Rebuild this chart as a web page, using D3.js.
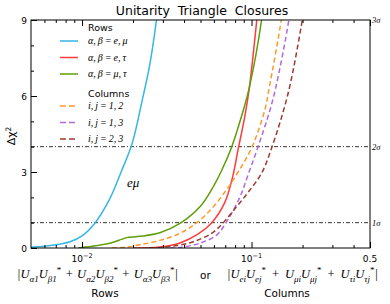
<!DOCTYPE html>
<html>
<head>
<meta charset="utf-8">
<script src="https://cdn.jsdelivr.net/npm/d3@7"></script>
<style>
    body { margin: 0; background: #fff; }
    svg text { font-family: "DejaVu Sans", sans-serif; fill: #000; }
    .math { font-family: "Liberation Serif", serif; font-style: italic; }
</style>
</head>
<body>
<div id="chart"></div>
<script>
// Curves: [ |sum of products|, delta chi^2 ]
const rowEMu = [[0.005, 0.03], [0.0065, 0.1], [0.0085, 0.25], [0.0101, 0.5], [0.0119, 0.98],
    [0.0146, 1.95], [0.0170, 3.0], [0.0197, 4.1], [0.0226, 5.8], [0.0252, 7.3], [0.0275, 9.0], [0.029, 10.2]];
const rowETau = [[0.0200, 0.0], [0.0288, 0.04], [0.0378, 0.2], [0.0485, 0.56], [0.0581, 0.99],
    [0.0696, 1.8], [0.0770, 2.75], [0.0834, 3.9], [0.0913, 5.2], [0.0970, 6.3], [0.1074, 9.0], [0.111, 10]];
const rowMuTau = [[0.0095, 0.0], [0.0146, 0.19], [0.0171, 0.34], [0.0183, 0.41], [0.0220, 0.46],
    [0.0288, 0.6], [0.0378, 0.97], [0.0496, 1.63], [0.0581, 2.3], [0.0665, 3.05], [0.0762, 3.97],
    [0.0873, 5.2], [0.0968, 6.3], [0.1146, 9.0], [0.118, 9.8]];
const col12 = [[0.0150, 0.0], [0.0180, 0.03], [0.0220, 0.13], [0.0288, 0.30], [0.0378, 0.58],
    [0.0474, 0.99], [0.0581, 1.55], [0.0712, 2.3], [0.0834, 3.0], [0.1004, 3.97], [0.1198, 5.45],
    [0.1265, 6.24], [0.1498, 9.0], [0.155, 9.8]];
const col13 = [[0.0330, 0.0], [0.0378, 0.02], [0.0496, 0.19], [0.0622, 0.51], [0.0706, 0.99],
    [0.0853, 2.0], [0.0955, 2.9], [0.1089, 3.97], [0.1341, 5.9], [0.1660, 9.0], [0.172, 9.8]];
const col23 = [[0.0250, 0.0], [0.0288, 0.01], [0.0433, 0.21], [0.0581, 0.58], [0.0679, 0.99],
    [0.0816, 1.63], [0.0955, 2.2], [0.1146, 2.95], [0.1317, 3.97], [0.1643, 6.1], [0.1994, 9.0], [0.206, 9.6]];

const curves = [rowEMu, rowETau, rowMuTau, col12, col13, col23];
const curveLabels = ["α,\u2009β\u2009=\u2009e,\u2009μ", "α,\u2009β\u2009=\u2009e,\u2009τ", "α,\u2009β\u2009=\u2009μ,\u2009τ",
    "i,\u2009j\u2009=\u20091,\u20092", "i,\u2009j\u2009=\u20091,\u20093", "i,\u2009j\u2009=\u20092,\u20093"];
const curveColors = ["#35b6e6", "#ff3b3b", "#5e9e06", "#ff9a2a", "#b06ad9", "#9e3a30"];
const curveDashed = [false, false, false, true, true, true];

// Axes
const xMajor = [0.01, 0.1, 0.5];
const xMinor = [0.006, 0.007, 0.008, 0.009, 0.02, 0.03, 0.04, 0.05, 0.06, 0.07, 0.08, 0.09, 0.2, 0.3, 0.4];
const yMajor = [0, 3, 6, 9];
const yMinor = [1, 2, 4, 5, 7, 8];
const sigmaLevels = [[1, "1σ"], [4, "2σ"], [9, "3σ"]];

const width = 390, height = 304;
const margin = { top: 20, right: 20, bottom: 56, left: 31 };

const svg = d3.select("#chart").append("svg")
    .attr("width", width)
    .attr("height", height);

const x = d3.scaleLog().domain([0.005, 0.5]).range([margin.left, width - margin.right]);
const y = d3.scaleLinear().domain([0, 9]).range([height - margin.bottom, margin.top]);

// clip for curves
svg.append("clipPath").attr("id", "plot")
    .append("rect")
    .attr("x", x.range()[0]).attr("y", y.range()[1])
    .attr("width", x.range()[1] - x.range()[0])
    .attr("height", y.range()[0] - y.range()[1]);

// dash-dot sigma lines
svg.selectAll(".sig")
    .data(sigmaLevels.filter(d => d[0] < 9))
    .join("line")
    .attr("x1", x.range()[0]).attr("x2", x.range()[1])
    .attr("y1", d => y(d[0])).attr("y2", d => y(d[0]))
    .attr("stroke", "#000").attr("stroke-width", 0.8)
    .attr("stroke-dasharray", "4,2,1,2");

// curves
const line = d3.line()
    .x(d => x(d[0]))
    .y(d => y(d[1]))
    .curve(d3.curveCatmullRom.alpha(0.5));

svg.append("g").attr("clip-path", "url(#plot)")
    .selectAll("path")
    .data(curves)
    .join("path")
    .attr("d", line)
    .attr("fill", "none")
    .attr("stroke", (d, i) => curveColors[i])
    .attr("stroke-width", 1.5)
    .attr("stroke-dasharray", (d, i) => curveDashed[i] ? "5,3" : null);

// axes, ticks pointing inward
function drawTicks(axis, values, size, transform) {
    svg.append("g")
        .attr("transform", transform)
        .call(axis.tickValues(values).tickSize(size).tickFormat(""))
        .call(g => g.select(".domain").remove())
        .call(g => g.selectAll("line").attr("stroke", "#000").attr("stroke-width", 1));
}
const yb = y.range()[0], yt = y.range()[1];
drawTicks(d3.axisBottom(x), xMajor, -6, `translate(0,${yb})`);
drawTicks(d3.axisBottom(x), xMinor, -3, `translate(0,${yb})`);
drawTicks(d3.axisTop(x), xMajor, -6, `translate(0,${yt})`);
drawTicks(d3.axisTop(x), xMinor, -3, `translate(0,${yt})`);
drawTicks(d3.axisLeft(y), yMajor, -6, `translate(${x.range()[0]},0)`);
drawTicks(d3.axisLeft(y), yMinor, -3, `translate(${x.range()[0]},0)`);

// frame
svg.append("rect")
    .attr("x", x.range()[0]).attr("y", yt)
    .attr("width", x.range()[1] - x.range()[0])
    .attr("height", yb - yt)
    .attr("fill", "none").attr("stroke", "#000").attr("stroke-width", 1);

// y tick labels
svg.selectAll(".ylab")
    .data(yMajor)
    .join("text")
    .attr("x", x.range()[0] - 4)
    .attr("y", d => y(d) + 3.5)
    .attr("text-anchor", "end")
    .attr("font-size", 9)
    .text(d => d);

// x tick labels
const xl = svg.selectAll(".xlab")
    .data(xMajor)
    .join("text")
    .attr("x", d => x(d))
    .attr("y", yb + 14)
    .attr("text-anchor", "middle")
    .attr("font-size", 9);
xl.each(function(d) {
    const t = d3.select(this);
    if (d === 0.5) { t.text("0.5"); return; }
    t.append("tspan").text("10");
    t.append("tspan").attr("dy", -4).attr("font-size", 6.5).text("−" + Math.round(-Math.log10(d)));
});

// sigma labels on the right
svg.selectAll(".sigl")
    .data(sigmaLevels)
    .join("text")
    .attr("class", "math")
    .attr("x", x.range()[1] + 2)
    .attr("y", d => y(d[0]) + 3)
    .attr("font-size", 8.5)
    .text(d => d[1]);

// title
svg.append("text")
    .attr("x", 202).attr("y", 15)
    .attr("text-anchor", "middle")
    .attr("font-size", 12.5)
    .attr("xml:space", "preserve")
    .text("Unitarity  Triangle  Closures");

// y label
const ylab = svg.append("text")
    .attr("transform", "translate(15,136) rotate(-90)")
    .attr("text-anchor", "middle")
    .attr("font-size", 11);
ylab.append("tspan").text("Δχ");
ylab.append("tspan").attr("dy", -4).attr("font-size", 7.5).text("2");

// simple math renderer: "_{..}" subscript, "^{..}" superscript
function mathText(sel, str, size) {
    const re = /_\{([^}]*)\}|\^\{([^}]*)\}|([^_^]+)/g;
    let m, shift = 0;
    while ((m = re.exec(str)) !== null) {
        const kind = m[1] !== undefined ? "sub" : m[2] !== undefined ? "sup" : "n";
        const s = m[1] ?? m[2] ?? m[3];
        const target = kind === "sub" ? size * 0.28 : kind === "sup" ? -size * 0.38 : 0;
        sel.append("tspan")
            .attr("dy", target - shift)
            .attr("font-size", kind === "n" ? size : size * 0.72)
            .attr("font-style", kind === "sup" ? "normal" : null)
            .text(s);
        shift = target;
    }
}

// stretch the gaps of an expression so it spans the wanted width
function fitWidth(sel, target) {
    const w = sel.node().getComputedTextLength();
    sel.attr("word-spacing", (target - w) / 4);
}

// legend
const legend = svg.append("g");
const legendRows = [
    { head: "Rows", y: 31 },
    { item: 0, y: 44 }, { item: 1, y: 60.5 }, { item: 2, y: 77 },
    { head: "Columns", y: 97 },
    { item: 3, y: 109 }, { item: 4, y: 125.5 }, { item: 5, y: 142 }
];
legendRows.forEach(r => {
    if (r.head) {
        legend.append("text").attr("x", 88).attr("y", r.y).attr("font-size", 9.5).text(r.head);
        return;
    }
    const i = r.item;
    legend.append("line")
        .attr("x1", 60).attr("x2", 78)
        .attr("y1", r.y - 3).attr("y2", r.y - 3)
        .attr("stroke", curveColors[i]).attr("stroke-width", 1.5)
        .attr("stroke-dasharray", curveDashed[i] ? "6,3" : null);
    legend.append("text").attr("class", "math")
        .attr("x", 88).attr("y", r.y)
        .attr("font-size", 10)
        .text(curveLabels[i]);
});

// e mu label
svg.append("text").attr("class", "math")
    .attr("x", 127).attr("y", 187)
    .attr("font-size", 13)
    .text("eμ");

// bottom axis captions
const rowExpr = svg.append("text").attr("class", "math")
    .attr("x", 17).attr("y", 278).attr("font-size", 12.5);
mathText(rowExpr, "|U_{α1}U_{β1}^{*} + U_{α2}U_{β2}^{*} + U_{α3}U_{β3}^{*}|", 12.5);
fitWidth(rowExpr, 161);

svg.append("text").attr("x", 200).attr("y", 279).attr("font-size", 10.5).text("or");

const colExpr = svg.append("text").attr("class", "math")
    .attr("x", 227).attr("y", 278).attr("font-size", 12.5);
mathText(colExpr, "|U_{ei}U_{ej}^{*} + U_{μi}U_{μj}^{*} + U_{τi}U_{τj}^{*}|", 12.5);
fitWidth(colExpr, 151);

svg.append("text").attr("x", 105).attr("y", 297).attr("text-anchor", "middle")
    .attr("font-size", 10.5).text("Rows");
svg.append("text").attr("x", 287).attr("y", 297).attr("text-anchor", "middle")
    .attr("font-size", 10.5).text("Columns");
</script>
</body>
</html>
